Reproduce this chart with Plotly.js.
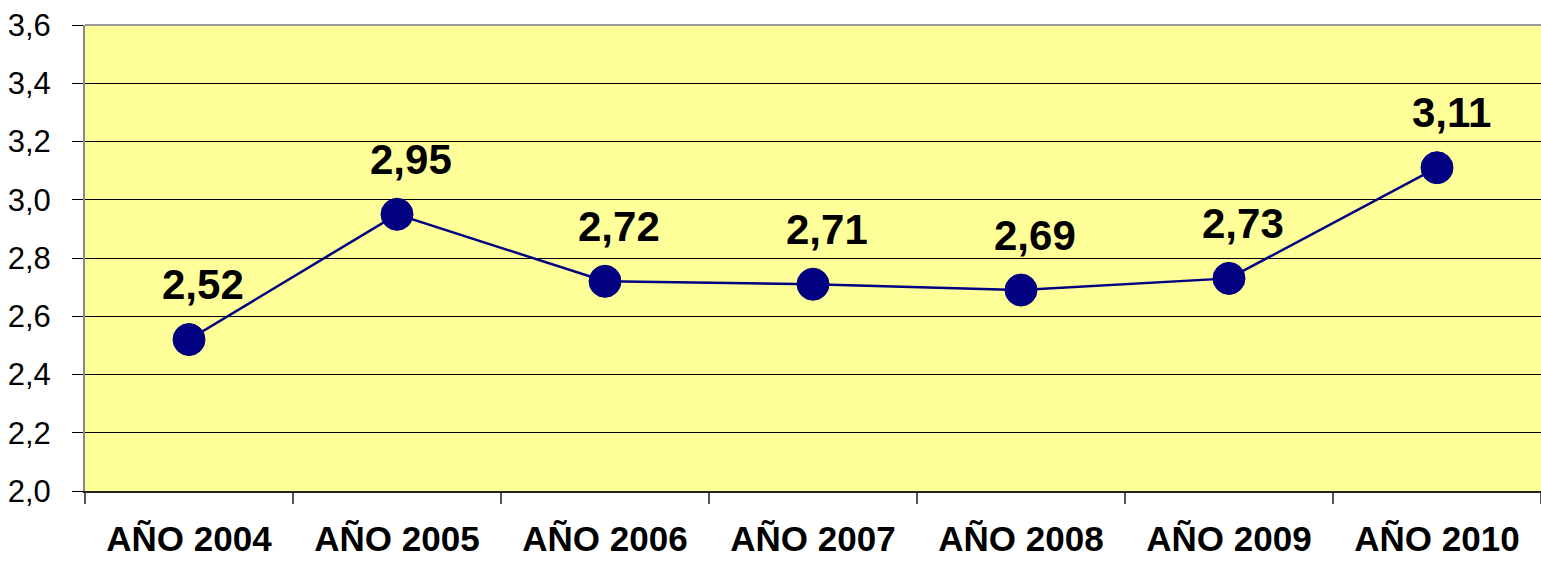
<!DOCTYPE html>
<html>
<head>
<meta charset="utf-8">
<script src="https://cdn.plot.ly/plotly-3.0.1.min.js"></script>
<style>html,body{margin:0;padding:0;background:#fff;}#chart{width:1541px;height:561px;}</style>
</head>
<body>
<div id="chart"></div>
<script>
const categories = ["AÑO 2004", "AÑO 2005", "AÑO 2006", "AÑO 2007", "AÑO 2008", "AÑO 2009", "AÑO 2010"];
const values = [2.52, 2.95, 2.72, 2.71, 2.69, 2.73, 3.11];
const yTickValues = [2.0, 2.2, 2.4, 2.6, 2.8, 3.0, 3.2, 3.4, 3.6];

const FONT = "Arial, 'Liberation Sans', sans-serif";

const trace = {
  type: "scatter",
  mode: "lines+markers",
  x: categories,
  y: values,
  line: {color: "#000080", width: 2.5},
  marker: {color: "#000080", size: 32, line: {color: "#000080", width: 1}},
  hoverinfo: "skip",
  cliponaxis: false
};

const annotations = categories.map((c, i) => ({
  x: c, y: values[i], xref: "x", yref: "y",
  text: values[i].toFixed(2).replace(".", ","),
  showarrow: false,
  xanchor: "center", yanchor: "middle",
  xshift: 14, yshift: 55,
  font: {family: FONT, size: 42, color: "#000", weight: "bold"}
}));

const layout = {
  width: 1541, height: 561,
  margin: {l: 85, r: 0, t: 25, b: 70, pad: 0},
  paper_bgcolor: "#ffffff",
  plot_bgcolor: "#FFFF99",
  showlegend: false,
  separators: ",.",
  xaxis: {
    type: "category",
    tickson: "boundaries",
    ticks: "outside", ticklen: 11, tickwidth: 2, tickcolor: "#555",
    showgrid: false,
    showline: true, linecolor: "#222", linewidth: 2,
    tickfont: {family: FONT, size: 35, color: "#000", weight: "bold"},
    ticklabelstandoff: 16,
    range: [-0.5, 6.5],
    fixedrange: true
  },
  yaxis: {
    range: [2.0, 3.6],
    tickvals: yTickValues,
    tickformat: ".1f",
    ticks: "outside", ticklen: 11, tickwidth: 1, tickcolor: "#000",
    showgrid: true, gridcolor: "#000", gridwidth: 1,
    zeroline: false,
    showline: true, linecolor: "#888", linewidth: 2,
    tickfont: {family: FONT, size: 31, color: "#000"},
    ticklabelstandoff: 15,
    fixedrange: true
  },
  shapes: [{
    type: "line", xref: "paper", yref: "paper", x0: 0, x1: 1, y0: 1, y1: 1,
    line: {color: "#999", width: 2}
  }],
  annotations: annotations
};

Plotly.newPlot("chart", [trace], layout, {displayModeBar: false, staticPlot: true});
</script>
</body>
</html>
